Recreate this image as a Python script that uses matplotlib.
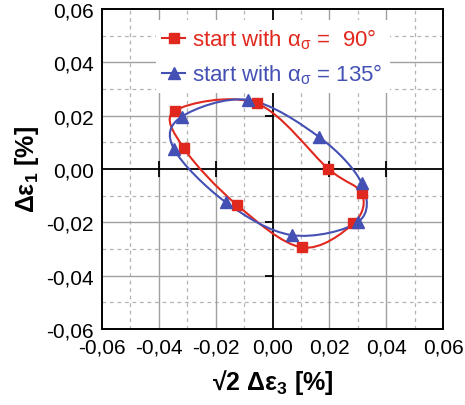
import numpy as np
import matplotlib
matplotlib.use("Agg")
import matplotlib.pyplot as plt
from matplotlib.path import Path
from matplotlib.patches import PathPatch
from matplotlib.ticker import FuncFormatter

plt.rcParams['font.family'] = ['Liberation Sans', 'DejaVu Sans']
plt.rcParams['mathtext.fontset'] = 'custom'
plt.rcParams['mathtext.rm'] = 'Liberation Sans'
plt.rcParams['mathtext.it'] = 'Liberation Sans'
plt.rcParams['mathtext.bf'] = 'Liberation Sans:bold'
plt.rcParams['mathtext.default'] = 'regular'

# loop points (counterclockwise)
x90 = [-0.0056, -0.0343, -0.0312, -0.0126, 0.0103, 0.0285, 0.0314, 0.0197]
y90 = [0.0246, 0.0219, 0.0078, -0.0134, -0.0294, -0.0204, -0.0091, 0.0000]
x135 = [-0.0085, -0.0320, -0.0347, -0.0164, 0.0068, 0.0302, 0.0314, 0.0165]
y135 = [0.0259, 0.0196, 0.0075, -0.0125, -0.0248, -0.0198, -0.0054, 0.0119]

ticks = [-0.06, -0.04, -0.02, 0.00, 0.02, 0.04, 0.06]
red = '#e0281e'
blue = '#4450b4'


def closed_curve(xs, ys):
	# closed Catmull-Rom curve through the points as cubic bezier segments
	p = np.column_stack([xs, ys])
	n = len(p)
	verts = [p[0]]
	codes = [Path.MOVETO]
	for i in range(n):
		p0, p1, p2, p3 = p[i-1], p[i], p[(i+1) % n], p[(i+2) % n]
		verts += [p1 + (p2-p0)/6., p2 - (p3-p1)/6., p2]
		codes += [Path.CURVE4]*3
	return Path(verts, codes)


fig = plt.figure(figsize=(4.65, 4.06), dpi=100)
ax = fig.add_axes([0.2194, 0.1872, 0.7333, 0.7882])
ax.set_xlim(-0.06, 0.06)
ax.set_ylim(-0.06, 0.06)

minor = [-0.05, -0.03, -0.01, 0.01, 0.03, 0.05]
for v in minor:
	ax.axvline(v, color='#b4b4b4', lw=0.9, ls=(0, (3, 3)), zorder=0)
	ax.axhline(v, color='#b4b4b4', lw=0.9, ls=(0, (3, 3)), zorder=0)
for v in [-0.04, -0.02, 0.02, 0.04]:
	ax.axvline(v, color='#a0a0a0', lw=1.0, zorder=0)
	ax.axhline(v, color='#a0a0a0', lw=1.0, zorder=0)
ax.axhline(0, color='k', lw=1.3, zorder=1)
ax.axvline(0, color='k', lw=1.3, zorder=1)
inner = [-0.04, -0.02, 0.02, 0.04]
ax.plot(inner, [0]*4, ls='none', marker='|', ms=12, mew=1.3, color='k', zorder=1)
ax.plot([0]*4, inner, ls='none', marker=0, ms=6, mew=1.3, color='k', zorder=1)

ax.add_patch(PathPatch(closed_curve(x90, y90), fc='none', ec=red, lw=1.5, zorder=3))
ax.add_patch(PathPatch(closed_curve(x135, y135), fc='none', ec=blue, lw=1.5, zorder=3))
ax.plot(x90, y90, ls='none', marker='s', ms=7, color=red, zorder=4)
ax.plot(x135, y135, ls='none', marker='^', ms=8, color=blue, zorder=4)

h1, = ax.plot([], [], color=red, lw=1.5, marker='s', ms=7)
h2, = ax.plot([], [], color=blue, lw=1.5, marker='^', ms=8)
leg = ax.legend([h1, h2], [r'start with α$_σ$ =  90°', r'start with α$_σ$ = 135°'],
	loc='upper left', bbox_to_anchor=(0.125, 1.0), fontsize=16, frameon=True,
	fancybox=False, edgecolor='none', facecolor='white', framealpha=1,
	handlelength=1.0, handletextpad=0.35, labelspacing=0.45, borderpad=0.3)
leg.get_texts()[0].set_color(red)
leg.get_texts()[1].set_color(blue)
leg.set_zorder(5)

ax.set_xticks(ticks)
ax.set_yticks(ticks)
fmt = FuncFormatter(lambda v, p: ('%.2f' % v).replace('.', ',').replace('-0,00', '0,00'))
ax.xaxis.set_major_formatter(fmt)
ax.yaxis.set_major_formatter(fmt)
ax.tick_params(length=0, labelsize=15)
ax.tick_params(axis='y', pad=6)
ax.tick_params(axis='x', pad=6)
for s in ax.spines.values():
	s.set_linewidth(1.4)
	s.set_zorder(6)

ax.set_xlabel('√2 Δε$_3$ [%]', fontsize=18, fontweight='bold', labelpad=8)
ax.set_ylabel('Δε$_1$ [%]', fontsize=18, fontweight='bold', labelpad=4)

fig.savefig('out.png', dpi=100)
